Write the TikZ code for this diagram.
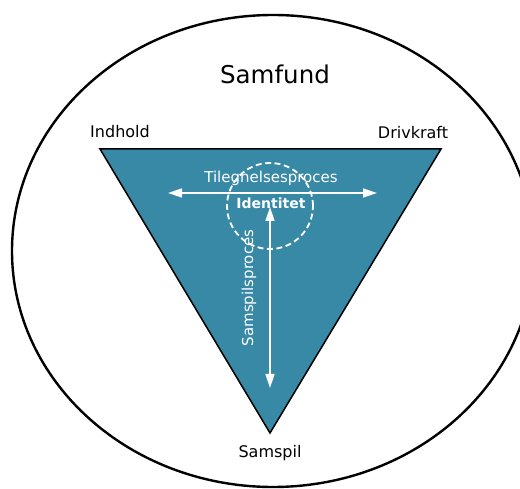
\documentclass[tikz,border=0pt]{standalone}
\usepackage{fontspec}
\setmainfont{DejaVu Sans}
\usetikzlibrary{positioning,arrows.meta}
\definecolor{triblue}{RGB}{56,137,166}

\begin{document}
\begin{tikzpicture}[x=1pt, y=-1pt,
  corner/.style={font=\fontsize{16}{18}\selectfont, text=black},
  proc/.style={font=\fontsize{15}{17}\selectfont, text=white},
  flow/.style={draw=white, line width=1.6pt,
    {Triangle[length=14pt,width=9pt]}-{Triangle[length=14pt,width=9pt]}},
]
  \useasboundingbox (0,0) rectangle (520,489);
  \clip (0,0) rectangle (520,489);

  % Society ellipse
  \draw[line width=2.4pt] (273,251) ellipse [x radius=261, y radius=236];
  \node (samfund) at (275,74) {\fontsize{24.5}{28}\selectfont Samfund};

  % Triangle
  \coordinate (tl) at (100,149);
  \coordinate (tr) at (441,149);
  \coordinate (bt) at (270,433);
  \draw[line width=1.5pt, fill=triblue] (tl) -- (tr) -- (bt) -- cycle;

  \node[corner] (indhold) at (120,132) {Indhold};
  \node[corner] (drivkraft) at (413,133) {Drivkraft};
  \node[corner] (samspil) at (270,453) {Samspil};

  % Identity ring
  \node[circle, draw=white, dash pattern=on 6pt off 3.5pt, line width=1.8pt,
    minimum size=86pt, inner sep=0pt] (ring) at (270,206) {};

  % Process arrows
  \coordinate (west) at (168,193);
  \coordinate (east) at (377,193);
  \draw[flow] (west) -- (east);
  \coordinate (top) at (270,207);
  \coordinate (bottom) at (270,388);
  \draw[flow] (top) -- (bottom);

  \node[proc] (tilegn) at (271,178) {Tilegnelsesproces};
  \node[proc, rotate=90] (samspilsproces) at (249,288) {Samspilsproces};
  \node[font=\bfseries\fontsize{14}{16}\selectfont, text=white]
    (identitet) at (271,203) {Identitet};
\end{tikzpicture}
\end{document}
